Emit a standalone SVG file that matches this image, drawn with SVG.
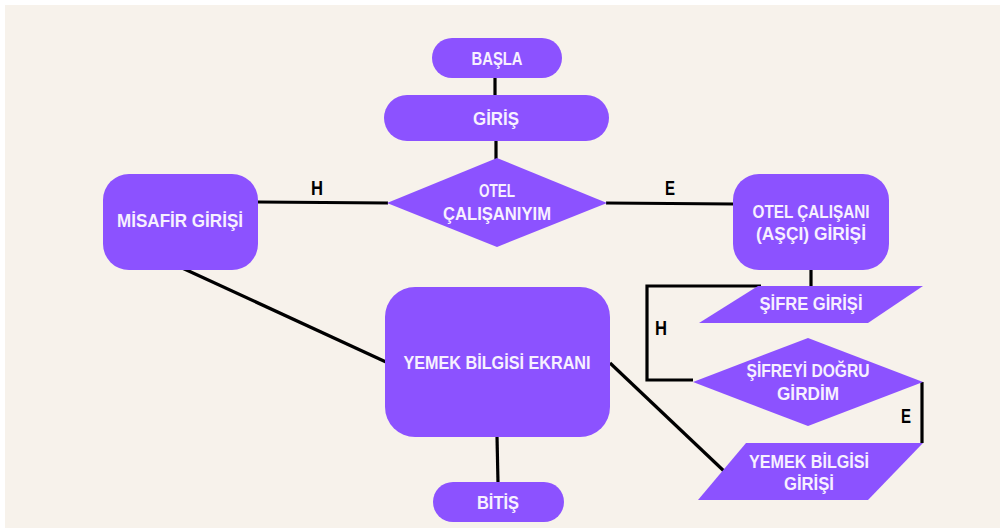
<svg xmlns="http://www.w3.org/2000/svg" width="1000" height="528" viewBox="0 0 1000 528">
<style>
.n{fill:#8c52ff}
.t{fill:#f7f0ff;font-family:"Liberation Sans",Arial,sans-serif;font-weight:bold;font-size:19px;text-anchor:middle;dominant-baseline:central}
.c{stroke:#000;stroke-width:3.2;fill:none}
.l{fill:#000;font-family:"Liberation Sans",Arial,sans-serif;font-weight:bold;font-size:20px;text-anchor:middle;dominant-baseline:central}
</style>
<rect x="0" y="0" width="1000" height="528" fill="#ffffff"/>
<rect x="5" y="5" width="995" height="523" fill="#f7f2eb"/>
<g id="connectors">
<line class="c" x1="495" y1="77" x2="495" y2="96"/>
<line class="c" x1="496" y1="140" x2="496" y2="160"/>
<line class="c" x1="258" y1="202" x2="388" y2="203"/>
<text class="l" x="317" y="188" textLength="12" lengthAdjust="spacingAndGlyphs">H</text>
<line class="c" x1="606" y1="203" x2="734" y2="204"/>
<text class="l" x="670" y="188" textLength="10" lengthAdjust="spacingAndGlyphs">E</text>
<line class="c" x1="811" y1="269" x2="811" y2="288"/>
<polyline class="c" points="761,286 647,286 647,380 693,380"/>
<text class="l" x="661" y="328" textLength="12" lengthAdjust="spacingAndGlyphs">H</text>
<polyline class="c" points="922,382 922,443"/>
<text class="l" x="906" y="416" textLength="10" lengthAdjust="spacingAndGlyphs">E</text>
<line class="c" x1="180" y1="267" x2="386" y2="362"/>
<line class="c" x1="610" y1="363" x2="725" y2="472"/>
<line class="c" x1="497" y1="436" x2="498" y2="483"/>
</g>
<g id="basla"><rect class="n" x="432" y="38" width="130" height="40" rx="20"/><text class="t" x="497" y="58" textLength="51" lengthAdjust="spacingAndGlyphs">BAŞLA</text></g>
<g id="giris"><rect class="n" x="384" y="95" width="225" height="46" rx="23"/><text class="t" x="496" y="118" textLength="46" lengthAdjust="spacingAndGlyphs">GİRİŞ</text></g>
<g id="otel-calisaniyim"><polygon class="n" points="497,158 607,203 497,247 387,203"/><text class="t" x="497" y="190" textLength="36" lengthAdjust="spacingAndGlyphs">OTEL</text><text class="t" x="497" y="213" textLength="108" lengthAdjust="spacingAndGlyphs">ÇALIŞANIYIM</text></g>
<g id="misafir"><rect class="n" x="103" y="174" width="155" height="96" rx="26"/><text class="t" x="180" y="220" textLength="126" lengthAdjust="spacingAndGlyphs">MİSAFİR GİRİŞİ</text></g>
<g id="otel-calisani"><rect class="n" x="733" y="174" width="156" height="96" rx="26"/><text class="t" x="811" y="211" textLength="117" lengthAdjust="spacingAndGlyphs">OTEL ÇALIŞANI</text><text class="t" x="811" y="233" textLength="110" lengthAdjust="spacingAndGlyphs">(AŞÇI) GİRİŞİ</text></g>
<g id="sifre-girisi"><polygon class="n" points="758,286 923,286 868,323 699,323"/><text class="t" x="811" y="303" textLength="103" lengthAdjust="spacingAndGlyphs">ŞİFRE GİRİŞİ</text></g>
<g id="sifre-dogru"><polygon class="n" points="808,338 923,382 808,426 693,382"/><text class="t" x="808" y="370" textLength="123" lengthAdjust="spacingAndGlyphs">ŞİFREYİ DOĞRU</text><text class="t" x="808" y="393" textLength="62" lengthAdjust="spacingAndGlyphs">GİRDİM</text></g>
<g id="yemek-bilgisi-girisi"><polygon class="n" points="746,443 923,443 868,500 698,500"/><text class="t" x="809" y="461" textLength="120" lengthAdjust="spacingAndGlyphs">YEMEK BİLGİSİ</text><text class="t" x="809" y="483" textLength="50" lengthAdjust="spacingAndGlyphs">GİRİŞİ</text></g>
<g id="yemek-ekrani"><rect class="n" x="385" y="287" width="225" height="150" rx="30"/><text class="t" x="497" y="362" textLength="187" lengthAdjust="spacingAndGlyphs">YEMEK BİLGİSİ EKRANI</text></g>
<g id="bitis"><rect class="n" x="433" y="482" width="131" height="40" rx="20"/><text class="t" x="498" y="502" textLength="42" lengthAdjust="spacingAndGlyphs">BİTİŞ</text></g>
</svg>
